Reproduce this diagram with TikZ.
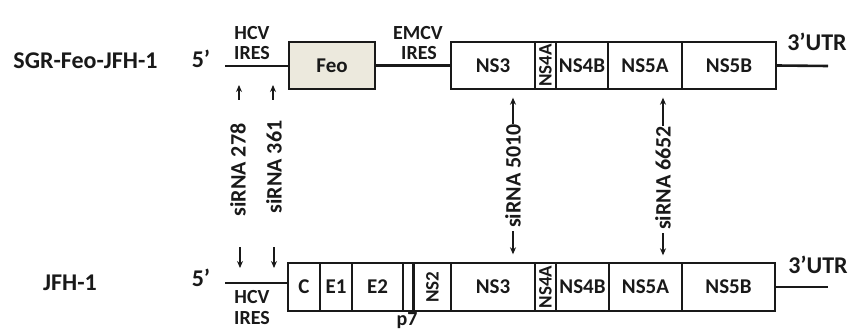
\documentclass[tikz,border=0pt]{standalone}
\usepackage{fontspec}
\setmainfont{Carlito}
\usetikzlibrary{arrows.meta,calc}
\definecolor{feofill}{RGB}{236,233,221}
\definecolor{ink}{RGB}{25,25,25}
\begin{document}
\begin{tikzpicture}[x=1pt,y=1pt,
  seg/.style={draw=ink, line width=1.4pt, inner sep=0pt, font=\fontsize{21}{24}\selectfont\bfseries, text=ink},
  vseg/.style={seg, rotate=90, font=\fontsize{19}{21}\selectfont\bfseries},
  lab/.style={inner sep=0pt, font=\fontsize{22}{24}\selectfont\bfseries, text=ink},
  biglab/.style={inner sep=0pt, font=\fontsize{24}{26}\selectfont\bfseries, text=ink},
  small/.style={inner sep=0pt, font=\fontsize{20}{22}\selectfont\bfseries, text=ink, text height=13pt, text depth=0pt},
  rna/.style={line width=2.6pt, draw=ink},
  sarr/.style={line width=1.3pt, draw=ink, -{Stealth[length=7pt,width=6pt]}}
]
\useasboundingbox (0,0) rectangle (860,-329);

% ---- top construct: SGR-Feo-JFH-1 ----
\node[seg, fill=feofill, minimum width=86pt, minimum height=47pt] (feo) at (332,-65.5) {Feo};
\node[seg, minimum width=84pt, minimum height=47pt] (ns3t) at (493,-65.5) {NS3};
\node[vseg, minimum width=47pt, minimum height=21pt] (ns4at) at (545.5,-65.5) {NS4A};
\node[seg, minimum width=52pt, minimum height=47pt] (ns4bt) at (582,-65.5) {NS4B};
\node[seg, minimum width=74pt, minimum height=47pt] (ns5at) at (645,-65.5) {NS5A};
\node[seg, minimum width=94pt, minimum height=47pt] (ns5bt) at (729,-65.5) {NS5B};

\coordinate (t5) at (225,-66);
\coordinate (t3) at (828,-66);
\draw[rna] (t5) -- (t5 -| feo.west);
\draw[rna] (feo.east) -- (ns3t.west);
\draw[rna] (ns5bt.east) -- (t3);

% ---- bottom construct: JFH-1 ----
\node[seg, minimum width=32pt, minimum height=48pt] (cb) at (304,-287) {C};
\node[seg, minimum width=32pt, minimum height=48pt] (e1b) at (336,-287) {E1};
\node[seg, minimum width=51pt, minimum height=48pt] (e2b) at (377.5,-287) {E2};
\node[seg, minimum width=10pt, minimum height=48pt] (p7b) at (408,-287) {};
\node[vseg, minimum width=48pt, minimum height=37pt] (ns2b) at (432.5,-287) {NS2};
\node[seg, minimum width=84pt, minimum height=48pt] (ns3b) at (493,-287) {NS3};
\node[vseg, minimum width=48pt, minimum height=21pt] (ns4ab) at (545.5,-287) {NS4A};
\node[seg, minimum width=53pt, minimum height=48pt] (ns4bb) at (582.5,-287) {NS4B};
\node[seg, minimum width=73pt, minimum height=48pt] (ns5ab) at (645.5,-287) {NS5A};
\node[seg, minimum width=93pt, minimum height=48pt] (ns5bb) at (728.5,-287) {NS5B};

\coordinate (b5) at (225,-283);
\coordinate (b3) at (828,-287);
\draw[rna] (b5) -- (b5 -| cb.west);
\draw[rna] (ns5bb.east) -- (b3);

% ---- labels ----
\node[biglab] (sgr) at (85.5,-61) {SGR-Feo-JFH-1};
\node[biglab] (jfh) at (70,-283) {JFH-1};
\node[biglab] (p5t) at (201,-59) {5’};
\node[biglab] (p5b) at (201,-278) {5’};
\node[biglab] (u3t) at (817,-42) {3’UTR};
\node[biglab] (u3b) at (818,-265) {3’UTR};
\node[small] (hcvt) at (252,-33) {HCV};
\node[small] (irest) at (252,-53) {IRES};
\node[small] (emcv) at (418,-33) {EMCV};
\node[small] (iresm) at (419,-53) {IRES};
\node[small] (hcvb) at (252,-297) {HCV};
\node[small] (iresb) at (252,-318) {IRES};
\node[small] (p7lab) at (407,-319) {p7};

% ---- siRNA labels ----
\node[lab, rotate=90] (s278) at (238,-170) {siRNA 278};
\node[lab, rotate=90] (s361) at (274,-167) {siRNA 361};
\node[lab, rotate=90] (s5010) at (513,-176) {siRNA 5010};
\node[lab, rotate=90] (s6652) at (663,-178) {siRNA 6652};

% short arrows for 278 and 361
\coordinate (a278a) at (239,-100); \coordinate (a278b) at (239,-85);
\coordinate (a361a) at (273,-100); \coordinate (a361b) at (273,-85);
\coordinate (a278c) at (240,-247); \coordinate (a278d) at (240,-268);
\coordinate (a361c) at (274,-247); \coordinate (a361d) at (274,-268);
\draw[sarr] (a278a) -- (a278b);
\draw[sarr] (a361a) -- (a361b);
\draw[sarr] (a278c) -- (a278d);
\draw[sarr] (a361c) -- (a361d);

% long arrows for 5010 and 6652
\draw[sarr, shorten >=8pt] (s5010.east) -- (s5010.east |- ns3t.south);
\draw[sarr, shorten <=3pt, shorten >=8pt] (s5010.west) -- (s5010.west |- ns3b.north);
\draw[sarr, shorten >=8pt] (s6652.east) -- (s6652.east |- ns5at.south);
\draw[sarr, shorten <=3pt, shorten >=7pt] (s6652.west) -- (s6652.west |- ns5ab.north);
\end{tikzpicture}
\end{document}
